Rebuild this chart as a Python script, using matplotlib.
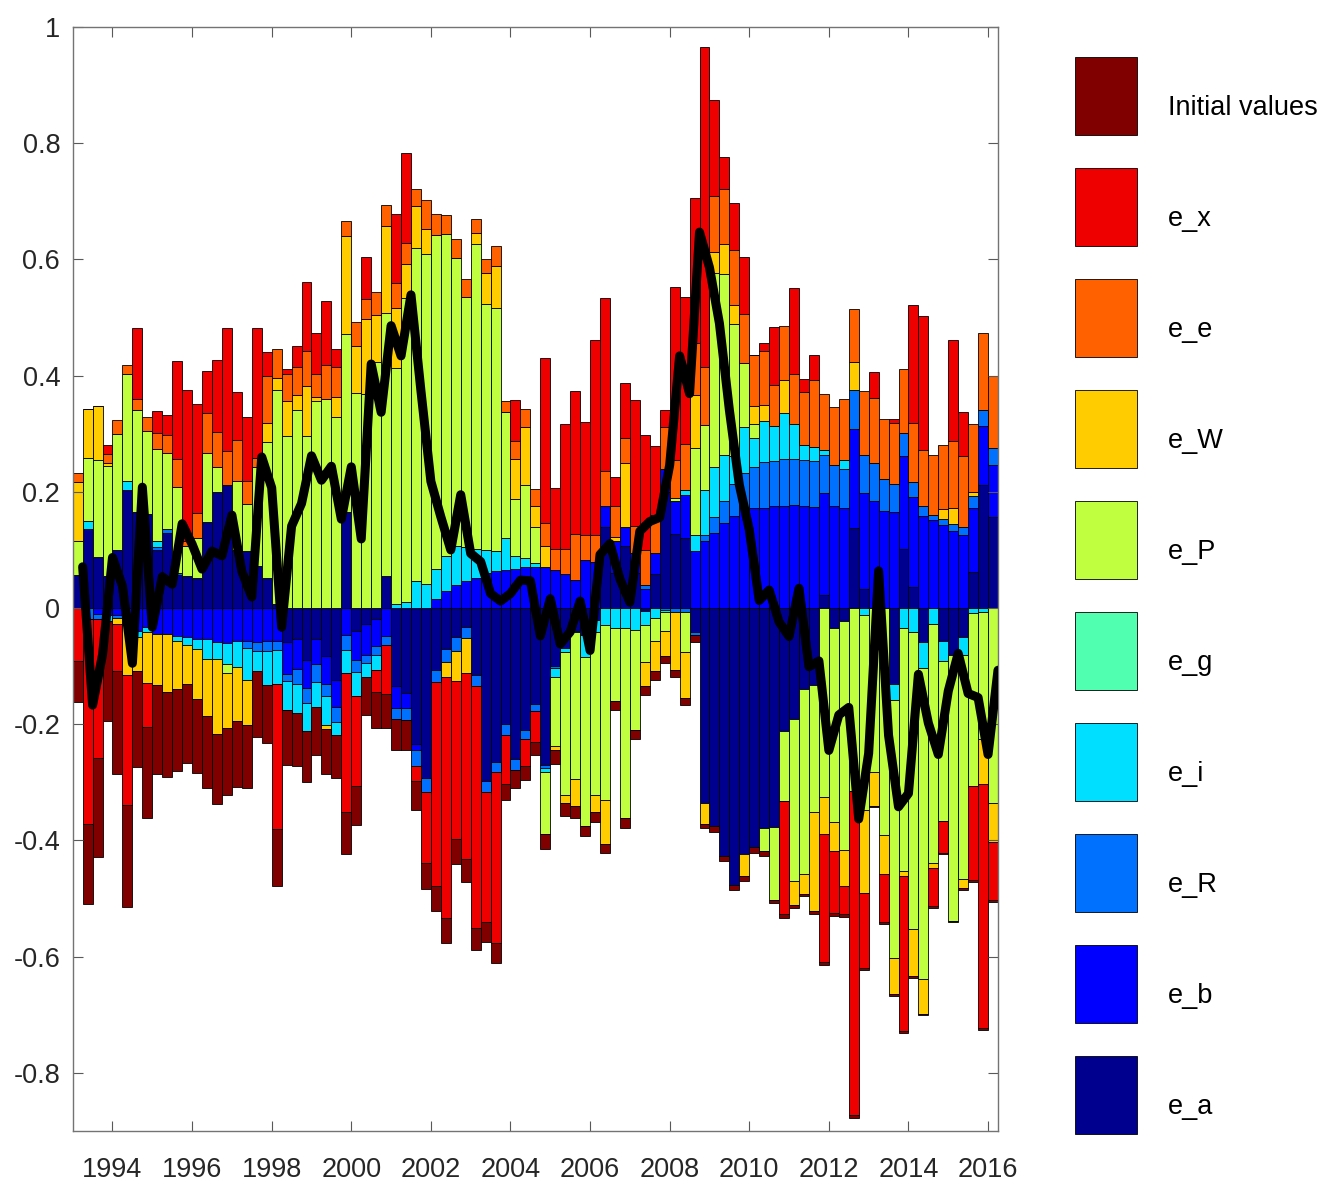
import numpy as np
import matplotlib
matplotlib.use("Agg")
import matplotlib.pyplot as plt
from matplotlib.patches import Patch, Rectangle
from matplotlib.legend_handler import HandlerPatch

plt.rcParams['font.family'] = ['Liberation Sans', 'DejaVu Sans']

# quarterly dates 1993Q1 .. 2016Q1 (line is drawn at the quarter end, bars just before)
dates = np.arange(1993.25, 2016.26, 0.25)

# shock contributions, one value per quarter
e_a = [0.057, 0.136, 0.088, 0.055, 0.10, 0.204, 0.165, 0.162, 0.10, 0.13,
       0.057, 0.056, 0.052, 0.148, 0.199, 0.212, 0.10, 0.098, 0.073, 0.052,
       0.007, -0.058, -0.053, -0.09, -0.053, -0.083, -0.124, 0.165, -0.04, -0.027,
       -0.018, 0.056, -0.134, -0.147, -0.234, -0.292, -0.106, -0.07, -0.05, -0.033,
       -0.116, -0.298, -0.265, -0.2, -0.26, -0.21, -0.165, -0.27, -0.1, -0.068,
       -0.04, -0.047, -0.02, 0.14, 0.06, 0.107, 0.06, -0.005, 0.059, 0.20,
       0.127, 0.12, -0.041, -0.335, -0.375, -0.426, -0.476, -0.424, -0.411, -0.379,
       -0.376, -0.212, -0.191, -0.14, -0.133, 0.023, -0.035, -0.022, 0.138, 0.033,
       0.0, 0.0, -0.13, 0.102, 0.036, -0.059, 0.0, -0.056, -0.08, -0.05,
       0.062, 0.212, 0.157]
e_b = [0.0, 0.0, -0.01, -0.012, -0.012, -0.03, -0.04, -0.032, -0.044, -0.045,
       -0.048, -0.05, -0.053, -0.053, -0.059, -0.061, -0.056, -0.056, -0.058, -0.056,
       -0.056, -0.055, -0.052, -0.047, -0.044, -0.047, -0.046, -0.047, -0.049, -0.053,
       -0.047, -0.048, -0.038, -0.025, -0.01, 0.0, 0.015, 0.029, 0.039, 0.047,
       0.052, 0.06, 0.063, 0.066, 0.068, 0.07, 0.07, 0.07, 0.065, 0.058,
       0.049, 0.083, 0.079, 0.036, 0.055, 0.032, 0.034, 0.033, 0.036, 0.04,
       0.058, 0.074, 0.098, 0.115, 0.13, 0.146, 0.159, 0.172, 0.172, 0.173,
       0.175, 0.175, 0.177, 0.176, 0.174, 0.175, 0.175, 0.172, 0.171, 0.165,
       0.185, 0.167, 0.165, 0.16, 0.155, 0.158, 0.151, 0.143, 0.133, 0.125,
       0.11, 0.102, 0.089]
e_R = [0.0, -0.019, -0.008, 0.0, -0.005, 0.0, 0.0, 0.0, 0.005, 0.006,
       0.004, 0.0, 0.0, 0.0, 0.0, 0.0, 0.0, -0.012, -0.016, -0.018,
       -0.016, -0.013, -0.026, -0.026, -0.031, -0.022, -0.026, -0.026, -0.021, -0.015,
       -0.015, -0.016, -0.019, -0.02, -0.028, -0.024, -0.022, -0.022, -0.024, -0.019,
       -0.018, -0.019, -0.018, -0.018, -0.018, -0.016, -0.013, -0.006, -0.003, 0.0,
       0.0, 0.0, 0.0, 0.0, 0.0, 0.0, 0.0, 0.006, 0.0, -0.003,
       -0.006, -0.006, -0.006, 0.01, 0.026, 0.039, 0.055, 0.061, 0.071, 0.078,
       0.078, 0.081, 0.079, 0.078, 0.079, 0.066, 0.071, 0.068, 0.067, 0.065,
       0.065, 0.055, 0.048, 0.039, 0.026, 0.017, 0.009, 0.01, 0.011, 0.014,
       0.021, 0.027, 0.03]
e_i = [0.0, 0.013, 0.0, -0.01, 0.0, 0.015, -0.01, -0.009, 0.01, 0.0,
       -0.009, -0.013, -0.018, -0.034, -0.028, -0.036, -0.046, -0.055, -0.035, -0.059,
       -0.058, -0.05, -0.049, -0.048, -0.043, -0.049, -0.022, -0.038, -0.042, -0.023,
       -0.026, 0.0, 0.007, 0.01, 0.047, 0.042, 0.052, 0.06, 0.067, 0.058,
       0.05, 0.04, 0.036, 0.055, 0.022, 0.016, 0.008, -0.006, -0.015, -0.007,
       -0.002, -0.038, -0.022, -0.03, -0.034, -0.034, -0.038, -0.025, -0.017, -0.004,
       0.0, 0.01, 0.028, 0.078, 0.087, 0.078, 0.048, 0.079, 0.05, 0.071,
       0.06, 0.079, 0.06, 0.027, 0.024, 0.008, 0.0, 0.015, 0.0, -0.012,
       0.0, 0.0, -0.028, -0.035, -0.041, -0.044, -0.028, -0.035, 0.0, -0.03,
       -0.009, -0.006, 0.0]
e_g = [0.0] * 93
e_P = [0.058, 0.11, 0.167, 0.19, 0.20, 0.184, 0.176, 0.142, 0.158, 0.13,
       0.148, 0.05, 0.068, 0.119, 0.044, -0.015, 0.118, 0.081, 0.17, 0.233,
       0.368, 0.296, 0.34, 0.296, 0.356, 0.359, 0.329, 0.307, 0.37, 0.369,
       0.424, 0.451, 0.406, 0.523, 0.572, 0.567, 0.575, 0.554, 0.496, 0.43,
       0.525, 0.423, 0.418, 0.216, 0.097, 0.126, 0.061, -0.106, -0.12, -0.247,
       -0.253, -0.29, -0.28, -0.3, -0.126, -0.328, -0.172, -0.063, -0.04, -0.033,
       0.005, -0.07, 0.149, 0.112, 0.333, 0.312, 0.226, 0.11, 0.023, -0.039,
       -0.126, -0.12, -0.278, -0.318, -0.218, -0.326, -0.333, -0.394, -0.315, -0.336,
       -0.282, -0.39, -0.444, -0.417, -0.511, -0.536, -0.41, -0.275, -0.458, -0.386,
       -0.298, -0.219, -0.335]
e_W = [0.102, 0.084, 0.093, 0.005, -0.01, -0.086, -0.059, -0.088, -0.088, -0.1,
       -0.083, -0.068, -0.085, -0.098, -0.13, -0.094, -0.093, -0.078, 0.0, 0.034,
       0.021, 0.06, 0.026, 0.086, 0.008, -0.008, 0.035, 0.168, 0.081, 0.129,
       0.08, 0.15, 0.103, 0.059, 0.073, 0.043, 0.0, -0.026, -0.051, -0.06,
       0.019, 0.053, 0.072, 0.0, 0.07, 0.099, 0.037, 0.036, -0.007, -0.013,
       -0.046, 0.0, -0.029, -0.076, 0.008, 0.11, 0.0, -0.042, -0.052, -0.043,
       -0.1, -0.078, 0.092, -0.036, 0.036, 0.052, 0.034, -0.037, 0.032, 0.027,
       0.0, 0.058, -0.042, -0.034, -0.17, -0.063, -0.05, -0.063, 0.048, -0.143,
       -0.058, -0.068, -0.063, -0.01, -0.081, -0.059, -0.009, 0.017, 0.028, -0.016,
       0.006, -0.078, -0.068]
e_e = [0.015, 0.0, 0.0, 0.015, 0.024, 0.016, 0.018, 0.025, 0.029, 0.032,
       0.047, 0.01, 0.044, 0.068, 0.06, 0.058, 0.072, 0.04, 0.015, 0.081,
       0.049, 0.047, 0.048, 0.061, 0.039, 0.06, 0.05, 0.026, 0.042, 0.034,
       0.04, 0.036, 0.044, 0.036, 0.029, 0.05, 0.037, 0.033, 0.033, 0.031,
       0.023, 0.024, 0.034, 0.019, 0.03, 0.032, 0.029, 0.04, 0.036, 0.043,
       0.078, 0.043, 0.046, 0.06, 0.052, 0.043, 0.048, 0.061, 0.066, 0.071,
       0.065, 0.078, 0.09, 0.099, 0.097, 0.095, 0.094, 0.084, 0.087, 0.094,
       0.071, 0.092, 0.087, 0.09, 0.116, 0.097, 0.10, 0.105, 0.09, 0.11,
       0.112, 0.103, 0.105, 0.111, 0.102, 0.097, 0.104, 0.11, 0.116, 0.123,
       0.118, 0.133, 0.123]
e_x = [-0.091, -0.353, -0.24, 0.016, -0.082, -0.223, 0.123, -0.075, 0.037, 0.034,
       0.169, 0.26, 0.187, 0.073, 0.124, 0.212, 0.081, 0.109, 0.224, 0.04,
       -0.25, 0.008, 0.037, 0.118, 0.07, 0.11, 0.031, -0.24, -0.154, 0.072,
       -0.038, -0.084, 0.118, 0.155, -0.025, -0.122, -0.35, -0.416, -0.272, -0.32,
       -0.417, -0.224, -0.294, -0.085, 0.071, -0.045, -0.052, 0.284, 0.105, 0.216,
       0.246, 0.194, 0.336, 0.297, 0.05, 0.096, 0.216, 0.198, 0.118, 0.029,
       0.297, 0.253, 0.249, 0.551, 0.166, 0.054, 0.081, 0.098, 0.0, 0.014,
       0.10, -0.194, 0.148, 0.024, 0.042, -0.22, -0.107, -0.047, -0.558, -0.128,
       0.045, -0.083, 0.008, -0.266, 0.203, 0.231, -0.066, -0.055, 0.174, 0.076,
       -0.161, -0.42, -0.10]
init_vals = [-0.07, -0.138, -0.17, -0.172, -0.177, -0.175, -0.165, -0.158, -0.153, -0.146,
             -0.14, -0.135, -0.128, -0.125, -0.12, -0.116, -0.113, -0.108, -0.113, -0.10,
             -0.098, -0.094, -0.091, -0.088, -0.082, -0.076, -0.074, -0.072, -0.068, -0.066,
             -0.063, -0.059, -0.053, -0.052, -0.05, -0.046, -0.044, -0.042, -0.043, -0.04,
             -0.038, -0.034, -0.034, -0.028, -0.032, -0.025, -0.023, -0.026, -0.023, -0.023,
             -0.02, -0.018, -0.018, -0.016, -0.015, -0.016, -0.016, -0.014, -0.014, -0.011,
             -0.012, -0.012, -0.012, -0.008, -0.01, -0.009, -0.009, -0.008, -0.011, -0.008,
             -0.006, -0.008, -0.006, -0.004, -0.005, -0.005, -0.005, -0.005, -0.004, -0.004,
             -0.003, -0.003, -0.003, -0.003, -0.003, -0.003, -0.003, -0.002, -0.002, -0.003,
             -0.003, -0.003, -0.003]

# stacking order (first one sits next to zero)
series = [e_a, e_b, e_R, e_i, e_g, e_P, e_W, e_e, e_x, init_vals]
names = ['e_a', 'e_b', 'e_R', 'e_i', 'e_g', 'e_P', 'e_W', 'e_e', 'e_x', 'Initial values']
colors = ['#00008F', '#0000FF', '#0070FF', '#00DFFF', '#50FFB0',
          '#BFFF40', '#FFCC00', '#FF6000', '#EE0000', '#800000']

fig = plt.figure(figsize=(13.24, 11.87), dpi=100)
ax = fig.add_axes([72.7 / 1324, 1 - 1131 / 1187, (998 - 72.7) / 1324, (1131 - 27) / 1187])

pos_base = np.zeros(len(dates))
neg_base = np.zeros(len(dates))
for vals, c in zip(series, colors):
    v = np.array(vals)
    bottom = np.where(v >= 0, pos_base, neg_base)
    ax.bar(dates - 0.125, v, width=0.25, bottom=bottom, color=c,
           edgecolor='black', linewidth=0.6)
    pos_base += np.where(v > 0, v, 0)
    neg_base += np.where(v < 0, v, 0)

# total = sum of all contributions
total = np.sum([np.array(s) for s in series], axis=0)
ax.plot(dates, total, color='black', linewidth=6.5,
        solid_joinstyle='round', solid_capstyle='round', zorder=5)

ax.set_xlim(1993.0, 2016.25)
ax.set_ylim(-0.9, 1.0)
ax.set_xticks(np.arange(1994, 2017, 2))
yt = np.round(np.arange(-0.8, 1.01, 0.2), 1)
ax.set_yticks(yt)
ax.set_yticklabels(['%g' % (t if abs(t) > 1e-9 else 0.0) for t in yt])
ax.tick_params(axis='both', direction='in', length=7.5, width=0.8, color='0.35',
               labelsize=19.5, labelcolor='#262626', top=True, right=True)
ax.tick_params(axis='x', pad=19)
ax.tick_params(axis='y', pad=9)
for sp in ax.spines.values():
    sp.set_color('0.45')
    sp.set_linewidth(1.0)


# legend boxes sit a little higher than their labels
shift = 12 * 72 / 100  # points


def raised_box(legend, orig_handle, xdescent, ydescent, width, height, fontsize):
    return Rectangle((-xdescent, -ydescent + shift), width, height)


handles = [Patch(facecolor=c, edgecolor='black', linewidth=0.6) for c in colors[::-1]]
fs = 19.5 * 100 / 72
hh = (78 / fs - 0.245) / 0.65
fig.legend(handles, names[::-1], loc='upper left',
           bbox_to_anchor=(1075 / 1324, 1 - (57 + 12) / 1187),
           frameon=False, fontsize=19.5, borderpad=0, borderaxespad=0,
           handlelength=62 / fs, handleheight=hh,
           labelspacing=33 / fs, handletextpad=31 / fs,
           handler_map={Patch: HandlerPatch(patch_func=raised_box)})

fig.savefig('out.png', dpi=100)
